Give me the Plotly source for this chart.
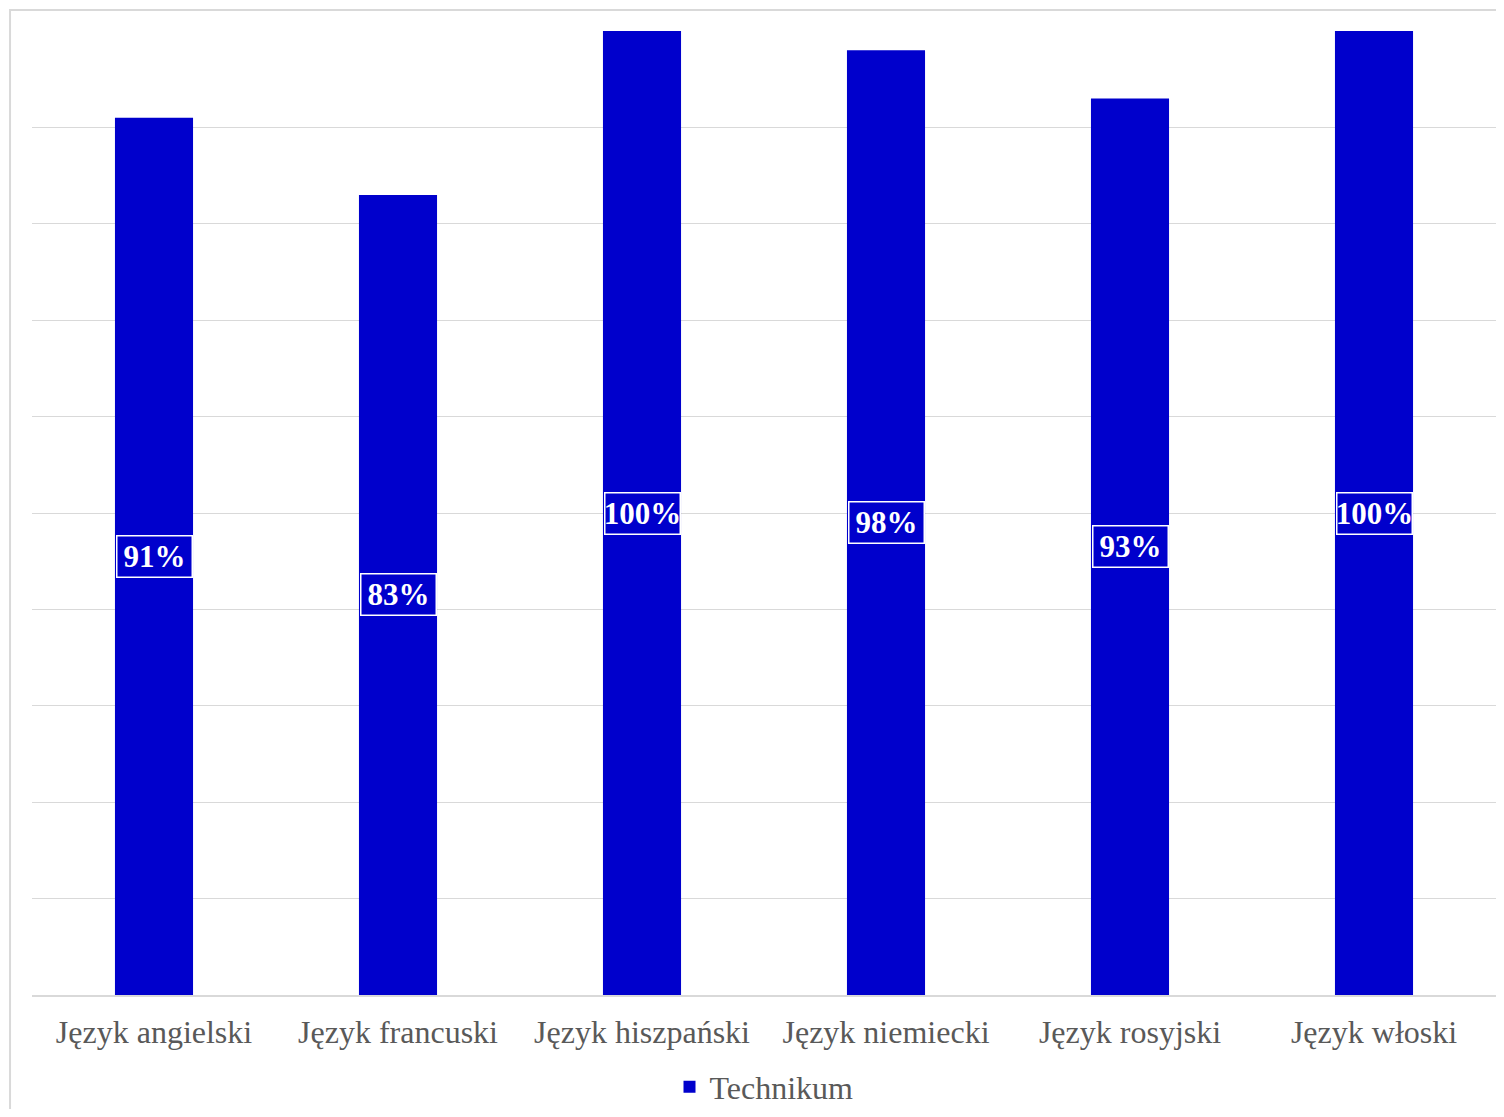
import plotly.graph_objects as go

categories = ["Język angielski", "Język francuski", "Język hiszpański",
              "Język niemiecki", "Język rosyjski", "Język włoski"]
values = [0.91, 0.83, 1.00, 0.98, 0.93, 1.00]
labels = ["91%", "83%", "100%", "98%", "93%", "100%"]
series_name = "Technikum"

BLUE = "#0000CC"
fig = go.Figure()
fig.add_trace(go.Bar(x=categories, y=values, name=series_name,
                     marker=dict(color=BLUE, line=dict(width=0)),
                     showlegend=True))

for c, v, t in zip(categories, values, labels):
    fig.add_annotation(x=c, y=v / 2, text="<b>%s</b>" % t, showarrow=False,
                       font=dict(family="Liberation Serif", size=31, color="white"),
                       width=74, height=40, align="center", valign="middle",
                       bgcolor=BLUE, bordercolor="white", borderwidth=1.5, borderpad=0)

fig.add_shape(type="rect", xref="paper", yref="paper",
              x0=-0.015, x1=1.2, y0=-0.3, y1=1.0218,
              line=dict(color="#d9d9d9", width=2), fillcolor="rgba(0,0,0,0)")

fig.update_layout(
    width=1488, height=1101,
    margin=dict(l=24, r=0, t=23, b=114, autoexpand=False),
    paper_bgcolor="white", plot_bgcolor="white",
    bargap=0.68,
    showlegend=True,
    legend=dict(orientation="h", x=0.5, xanchor="center",
                yref="container", y=0.02, yanchor="middle",
                bgcolor="rgba(0,0,0,0)",
                font=dict(family="Liberation Serif", size=32, color="#595959")),
    xaxis=dict(showgrid=False, showline=True, linecolor="#d9d9d9", linewidth=1.5,
               tickfont=dict(family="Liberation Serif", size=32, color="#595959"),
               ticks="outside", ticklen=8, tickcolor="rgba(0,0,0,0)"),
    yaxis=dict(range=[0, 1], dtick=0.1, showgrid=True, gridcolor="#d9d9d9", gridwidth=1,
               showticklabels=False, zeroline=False, showline=False),
)
fig.write_html("out.html")
